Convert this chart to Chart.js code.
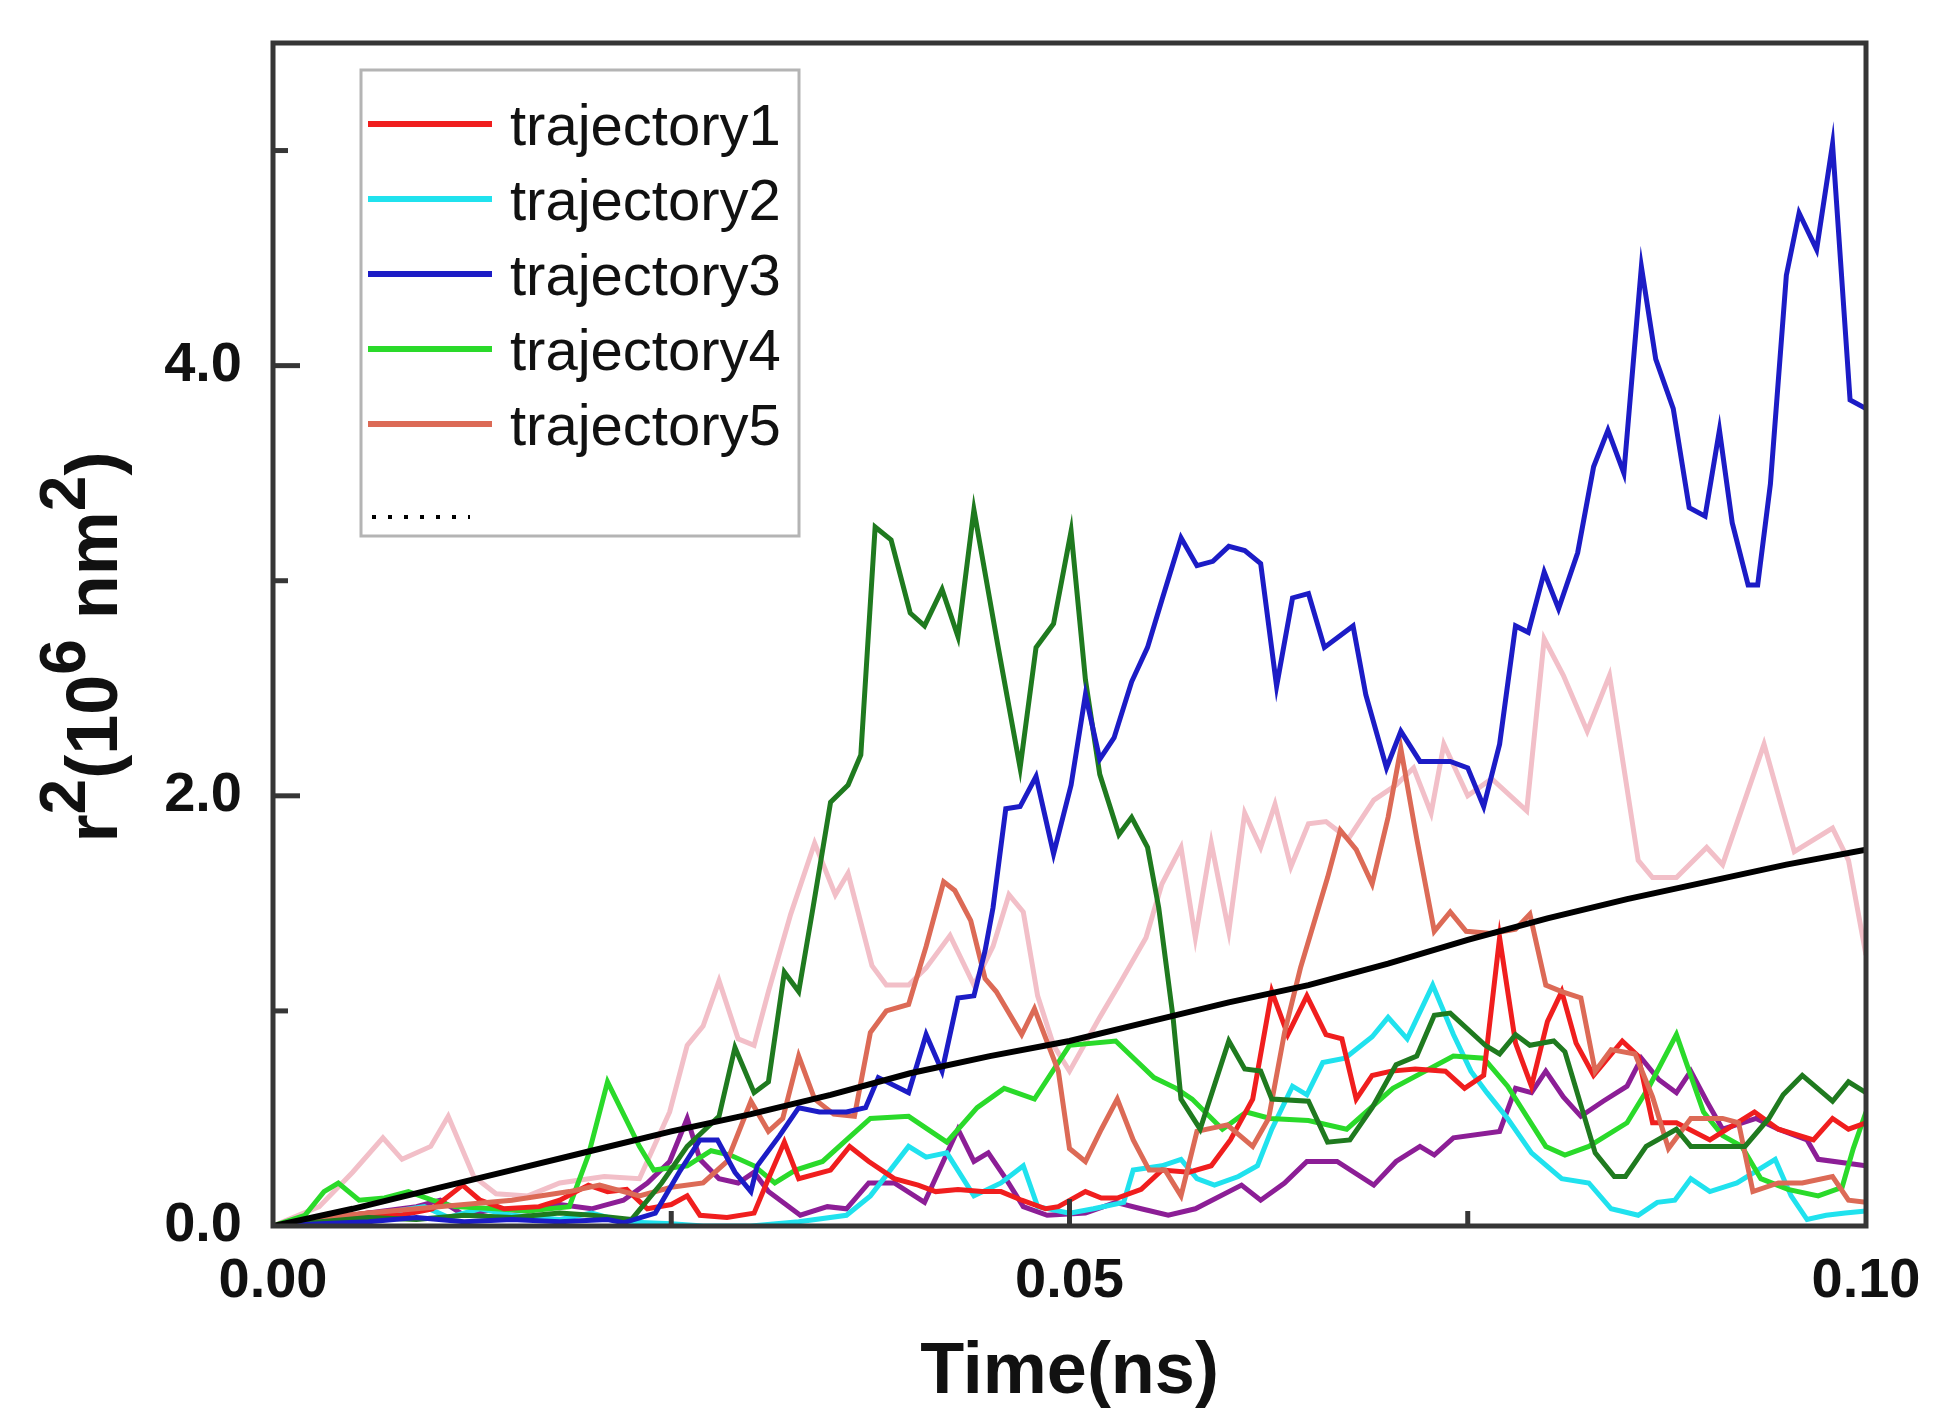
<!DOCTYPE html>
<html lang="en">
<head>
    <meta charset="UTF-8">
    <title>r2 vs time</title>
    <script src="https://cdn.jsdelivr.net/npm/chart.js"></script>
    <style>
        html, body { margin: 0; padding: 0; background: #fff; }
        #wrap { width: 1944px; height: 1428px; position: relative; }
    </style>
</head>
<body>
    <div id="wrap"><canvas id="myChart"></canvas></div>
    <script>
        // time (ns) and r^2 (10^6 nm^2), one pair of arrays per curve
        const t1 = [0, 0.002, 0.004, 0.006, 0.008, 0.010, 0.0119, 0.013, 0.0145, 0.0167, 0.018, 0.0198, 0.021, 0.0222, 0.0235, 0.025, 0.026, 0.0268, 0.0285, 0.0302, 0.0311, 0.0321, 0.033, 0.035, 0.0362, 0.0374, 0.039, 0.0405, 0.0416, 0.043, 0.0445, 0.0457, 0.047, 0.0485, 0.0493, 0.051, 0.052, 0.053, 0.0545, 0.0558, 0.0575, 0.0589, 0.0601, 0.0615, 0.0627, 0.0637, 0.0649, 0.0661, 0.0671, 0.068, 0.069, 0.0702, 0.0717, 0.0736, 0.0748, 0.076, 0.077, 0.078, 0.079, 0.080, 0.0809, 0.0818, 0.0829, 0.0847, 0.0857, 0.0866, 0.0881, 0.0902, 0.093, 0.0945, 0.0967, 0.0979, 0.0989, 0.1];
        const r1 = [0, 0.02, 0.04, 0.06, 0.05, 0.08, 0.19, 0.12, 0.08, 0.09, 0.12, 0.19, 0.16, 0.17, 0.08, 0.10, 0.14, 0.05, 0.04, 0.06, 0.22, 0.39, 0.22, 0.26, 0.37, 0.30, 0.22, 0.19, 0.16, 0.17, 0.16, 0.16, 0.12, 0.08, 0.09, 0.16, 0.13, 0.13, 0.17, 0.26, 0.25, 0.28, 0.40, 0.59, 1.09, 0.89, 1.07, 0.89, 0.87, 0.59, 0.70, 0.72, 0.73, 0.72, 0.64, 0.70, 1.34, 0.85, 0.65, 0.95, 1.09, 0.85, 0.70, 0.86, 0.79, 0.48, 0.48, 0.40, 0.53, 0.45, 0.40, 0.50, 0.45, 0.48];

        const t2 = [0, 0.003, 0.006, 0.0095, 0.011, 0.013, 0.015, 0.018, 0.020, 0.022, 0.025, 0.027, 0.030, 0.033, 0.036, 0.0375, 0.0399, 0.041, 0.0423, 0.044, 0.0457, 0.0471, 0.048, 0.050, 0.0515, 0.0534, 0.054, 0.0558, 0.057, 0.058, 0.0591, 0.0606, 0.0618, 0.0627, 0.064, 0.0649, 0.0659, 0.0673, 0.069, 0.070, 0.0712, 0.0728, 0.0741, 0.0752, 0.0762, 0.0775, 0.079, 0.0809, 0.0826, 0.084, 0.0857, 0.0869, 0.088, 0.089, 0.0902, 0.0919, 0.0943, 0.0953, 0.0963, 0.0975, 0.0987, 0.1];
        const r2 = [0, 0.02, 0.05, 0.09, 0.04, 0.08, 0.05, 0.03, 0.06, 0.02, 0.01, 0.0, 0.0, 0.02, 0.05, 0.14, 0.37, 0.32, 0.34, 0.14, 0.20, 0.28, 0.09, 0.06, 0.08, 0.11, 0.26, 0.28, 0.31, 0.22, 0.19, 0.23, 0.28, 0.45, 0.65, 0.61, 0.76, 0.78, 0.88, 0.97, 0.87, 1.12, 0.89, 0.72, 0.62, 0.50, 0.34, 0.22, 0.20, 0.08, 0.05, 0.11, 0.12, 0.22, 0.16, 0.20, 0.31, 0.14, 0.03, 0.05, 0.06, 0.07];

        const t3 = [0, 0.003, 0.006, 0.009, 0.012, 0.015, 0.018, 0.021, 0.022, 0.024, 0.0255, 0.0268, 0.0279, 0.029, 0.030, 0.0304, 0.0318, 0.033, 0.0343, 0.036, 0.0372, 0.038, 0.0399, 0.041, 0.042, 0.043, 0.044, 0.0447, 0.0452, 0.046, 0.0469, 0.0479, 0.049, 0.0501, 0.051, 0.0519, 0.0528, 0.0539, 0.0549, 0.0558, 0.057, 0.058, 0.059, 0.060, 0.061, 0.062, 0.063, 0.064, 0.065, 0.066, 0.0678, 0.0686, 0.0699, 0.0708, 0.072, 0.0739, 0.075, 0.076, 0.077, 0.078, 0.0788, 0.0798, 0.0807, 0.0819, 0.0829, 0.0838, 0.0848, 0.0859, 0.0868, 0.0879, 0.0889, 0.0899, 0.0908, 0.0916, 0.0926, 0.0932, 0.094, 0.095, 0.0958, 0.0969, 0.0979, 0.099, 0.1];
        const r3 = [0, 0.01, 0.02, 0.04, 0.02, 0.03, 0.02, 0.03, 0.015, 0.06, 0.25, 0.40, 0.40, 0.25, 0.16, 0.28, 0.42, 0.55, 0.53, 0.53, 0.55, 0.69, 0.62, 0.89, 0.72, 1.06, 1.07, 1.28, 1.48, 1.94, 1.95, 2.09, 1.73, 2.05, 2.47, 2.17, 2.27, 2.53, 2.69, 2.91, 3.20, 3.07, 3.09, 3.16, 3.14, 3.08, 2.51, 2.92, 2.94, 2.69, 2.79, 2.47, 2.13, 2.30, 2.16, 2.16, 2.13, 1.95, 2.24, 2.79, 2.76, 3.04, 2.87, 3.13, 3.53, 3.70, 3.50, 4.46, 4.03, 3.80, 3.34, 3.30, 3.70, 3.27, 2.98, 2.98, 3.45, 4.42, 4.71, 4.54, 5.03, 3.84, 3.80];

        const t4 = [0, 0.002, 0.0032, 0.0041, 0.0054, 0.007, 0.0085, 0.010, 0.0114, 0.014, 0.016, 0.0186, 0.0198, 0.021, 0.023, 0.0239, 0.026, 0.0275, 0.0287, 0.0302, 0.0315, 0.0328, 0.0345, 0.036, 0.0375, 0.0399, 0.0423, 0.0442, 0.0459, 0.0478, 0.050, 0.0529, 0.0553, 0.0567, 0.0577, 0.0596, 0.0611, 0.0626, 0.065, 0.0674, 0.0703, 0.0741, 0.076, 0.0775, 0.0799, 0.0811, 0.0826, 0.085, 0.0864, 0.0881, 0.0898, 0.091, 0.0922, 0.0934, 0.0951, 0.097, 0.0985, 0.0992, 0.1];
        const r4 = [0, 0.05, 0.16, 0.20, 0.12, 0.13, 0.16, 0.12, 0.09, 0.08, 0.07, 0.09, 0.33, 0.67, 0.37, 0.26, 0.28, 0.35, 0.33, 0.28, 0.20, 0.26, 0.30, 0.40, 0.50, 0.51, 0.39, 0.55, 0.64, 0.59, 0.84, 0.86, 0.69, 0.64, 0.59, 0.45, 0.53, 0.50, 0.49, 0.45, 0.64, 0.79, 0.78, 0.65, 0.37, 0.33, 0.37, 0.48, 0.65, 0.89, 0.53, 0.42, 0.37, 0.22, 0.17, 0.14, 0.18, 0.36, 0.53];

        const t5 = [0, 0.003, 0.006, 0.009, 0.012, 0.015, 0.0186, 0.0205, 0.023, 0.025, 0.027, 0.0285, 0.030, 0.0311, 0.032, 0.033, 0.034, 0.0352, 0.0365, 0.0375, 0.0385, 0.0399, 0.041, 0.0421, 0.0428, 0.0438, 0.0447, 0.0454, 0.047, 0.0478, 0.0493, 0.050, 0.051, 0.052, 0.053, 0.054, 0.055, 0.056, 0.057, 0.058, 0.0599, 0.0615, 0.0625, 0.0635, 0.0645, 0.0662, 0.067, 0.068, 0.069, 0.070, 0.0708, 0.0718, 0.0729, 0.0739, 0.0749, 0.0765, 0.078, 0.0789, 0.0799, 0.0809, 0.0821, 0.083, 0.084, 0.0855, 0.0866, 0.0876, 0.089, 0.091, 0.092, 0.0929, 0.0945, 0.096, 0.0979, 0.0989, 0.1];
        const r5 = [0, 0.04, 0.06, 0.08, 0.10, 0.12, 0.16, 0.19, 0.14, 0.18, 0.20, 0.30, 0.58, 0.44, 0.50, 0.79, 0.59, 0.52, 0.51, 0.90, 1.00, 1.03, 1.30, 1.60, 1.56, 1.42, 1.15, 1.09, 0.89, 1.01, 0.72, 0.36, 0.30, 0.45, 0.59, 0.40, 0.26, 0.26, 0.14, 0.44, 0.47, 0.37, 0.50, 0.90, 1.20, 1.62, 1.84, 1.75, 1.59, 1.90, 2.22, 1.80, 1.37, 1.46, 1.37, 1.36, 1.38, 1.45, 1.12, 1.09, 1.06, 0.72, 0.82, 0.80, 0.60, 0.36, 0.50, 0.50, 0.48, 0.16, 0.20, 0.20, 0.23, 0.12, 0.11];

        const t6 = [0, 0.0029, 0.005, 0.0069, 0.0081, 0.0099, 0.011, 0.0126, 0.014, 0.016, 0.018, 0.0208, 0.023, 0.0249, 0.026, 0.027, 0.028, 0.0292, 0.0302, 0.0311, 0.0325, 0.034, 0.0353, 0.0361, 0.0376, 0.0385, 0.0399, 0.041, 0.0425, 0.044, 0.0452, 0.0462, 0.0471, 0.048, 0.049, 0.050, 0.0519, 0.0531, 0.0548, 0.0558, 0.057, 0.0579, 0.0589, 0.060, 0.061, 0.062, 0.0629, 0.0639, 0.065, 0.0661, 0.0675, 0.0691, 0.0705, 0.0716, 0.0727, 0.0735, 0.075, 0.0765, 0.0787, 0.0798, 0.081, 0.0825, 0.0839, 0.0848, 0.0857, 0.0866, 0.0881, 0.090, 0.091, 0.0936, 0.0947, 0.0955, 0.0979, 0.0989, 0.1];
        const r6 = [0, 0.09, 0.25, 0.41, 0.31, 0.37, 0.51, 0.23, 0.15, 0.14, 0.20, 0.23, 0.22, 0.53, 0.84, 0.93, 1.14, 0.87, 0.84, 1.09, 1.45, 1.78, 1.54, 1.64, 1.21, 1.12, 1.12, 1.20, 1.35, 1.12, 1.30, 1.54, 1.46, 1.07, 0.84, 0.72, 0.97, 1.12, 1.34, 1.59, 1.76, 1.34, 1.78, 1.37, 1.92, 1.76, 1.96, 1.67, 1.87, 1.88, 1.80, 1.98, 2.05, 2.13, 1.92, 2.24, 2.00, 2.08, 1.93, 2.73, 2.56, 2.30, 2.56, 2.13, 1.70, 1.62, 1.62, 1.76, 1.68, 2.24, 1.95, 1.74, 1.85, 1.70, 1.26];

        const t7 = [0, 0.003, 0.006, 0.009, 0.0105, 0.012, 0.014, 0.016, 0.018, 0.020, 0.022, 0.0235, 0.0249, 0.026, 0.0268, 0.028, 0.0292, 0.0302, 0.0311, 0.0331, 0.0348, 0.036, 0.0374, 0.039, 0.0409, 0.043, 0.044, 0.0449, 0.046, 0.0471, 0.0486, 0.051, 0.0529, 0.0545, 0.0562, 0.0579, 0.0608, 0.062, 0.0635, 0.0649, 0.0668, 0.0691, 0.0705, 0.072, 0.0729, 0.0741, 0.077, 0.078, 0.079, 0.0799, 0.081, 0.0821, 0.0835, 0.085, 0.0859, 0.087, 0.0881, 0.089, 0.090, 0.091, 0.0931, 0.0945, 0.0963, 0.097, 0.1];
        const r7 = [0, 0.03, 0.06, 0.09, 0.12, 0.05, 0.08, 0.07, 0.10, 0.08, 0.12, 0.20, 0.30, 0.50, 0.31, 0.22, 0.20, 0.25, 0.16, 0.05, 0.09, 0.08, 0.20, 0.20, 0.11, 0.45, 0.30, 0.34, 0.22, 0.09, 0.05, 0.06, 0.11, 0.08, 0.05, 0.08, 0.19, 0.12, 0.20, 0.30, 0.30, 0.19, 0.30, 0.37, 0.33, 0.41, 0.44, 0.64, 0.62, 0.72, 0.60, 0.51, 0.58, 0.65, 0.78, 0.68, 0.62, 0.72, 0.58, 0.45, 0.50, 0.45, 0.40, 0.31, 0.28];

        const t8 = [0, 0.003, 0.006, 0.009, 0.012, 0.015, 0.018, 0.020, 0.0225, 0.0244, 0.026, 0.028, 0.029, 0.0302, 0.0311, 0.0321, 0.033, 0.0339, 0.035, 0.0361, 0.0369, 0.0378, 0.0388, 0.040, 0.0409, 0.042, 0.043, 0.044, 0.0455, 0.0469, 0.0479, 0.049, 0.0501, 0.051, 0.0519, 0.0531, 0.0539, 0.0549, 0.0556, 0.0565, 0.057, 0.0582, 0.060, 0.061, 0.062, 0.0627, 0.065, 0.0662, 0.0676, 0.069, 0.0705, 0.0718, 0.0729, 0.0739, 0.0761, 0.077, 0.078, 0.0789, 0.0804, 0.0811, 0.083, 0.0842, 0.0849, 0.0862, 0.0881, 0.089, 0.0924, 0.0939, 0.0948, 0.096, 0.0979, 0.0989, 0.1];
        const r8 = [0, 0.02, 0.04, 0.03, 0.05, 0.04, 0.06, 0.05, 0.03, 0.20, 0.37, 0.51, 0.83, 0.62, 0.67, 1.18, 1.09, 1.48, 1.97, 2.05, 2.19, 3.25, 3.19, 2.85, 2.79, 2.96, 2.74, 3.33, 2.70, 2.13, 2.69, 2.80, 3.23, 2.54, 2.10, 1.82, 1.90, 1.76, 1.48, 0.97, 0.59, 0.45, 0.86, 0.73, 0.72, 0.59, 0.58, 0.39, 0.40, 0.55, 0.75, 0.79, 0.98, 0.99, 0.84, 0.80, 0.89, 0.84, 0.86, 0.81, 0.34, 0.23, 0.23, 0.37, 0.45, 0.37, 0.37, 0.50, 0.61, 0.70, 0.58, 0.67, 0.62];

        // smooth black curve
        const t9 = [0, 0.005, 0.010, 0.015, 0.020, 0.025, 0.030, 0.035, 0.040, 0.045, 0.050, 0.055, 0.060, 0.065, 0.070, 0.075, 0.080, 0.085, 0.090, 0.095, 0.1];
        const r9 = [0, 0.08, 0.17, 0.26, 0.35, 0.44, 0.52, 0.61, 0.71, 0.79, 0.86, 0.95, 1.04, 1.12, 1.22, 1.33, 1.43, 1.52, 1.60, 1.68, 1.75];

        const legendLabels = ['trajectory1', 'trajectory2', 'trajectory3', 'trajectory4', 'trajectory5'];
        const xTickLabels = ['0.00', '0.05', '0.10'];
        const yTickLabels = ['0.0', '2.0', '4.0'];

        const FONT = '"Liberation Sans", Arial, Helvetica, sans-serif';

        function pts(t, r) {
            return t.map((x, i) => ({ x: x, y: r[i] }));
        }

        function line(label, t, r, color, order, width) {
            return {
                label: label,
                data: pts(t, r),
                borderColor: color,
                backgroundColor: color,
                borderWidth: width || 5,
                pointRadius: 0,
                tension: 0,
                fill: false,
                order: order
            };
        }

        // lower order = drawn on top
        const datasets = [
            line(legendLabels[0], t1, r1, '#f01e1e', 4),
            line(legendLabels[1], t2, r2, '#20e2ee', 6),
            line(legendLabels[2], t3, r3, '#1c1cc6', 1),
            line(legendLabels[3], t4, r4, '#2ada2a', 5),
            line(legendLabels[4], t5, r5, '#dc6a56', 3),
            line('', t6, r6, '#f2bfc8', 9),
            line('', t7, r7, '#8c1e96', 7),
            line('', t8, r8, '#1f7a1f', 2),
            line('', t9, r9, '#000000', 0, 6)
        ];

        // frame, inward tick marks, legend box and the y title with superscripts
        const decorations = {
            id: 'decorations',
            afterDatasetsDraw(chart) {
                const ctx = chart.ctx;
                const a = chart.chartArea;
                const xs = chart.scales.x;
                const ys = chart.scales.y;
                ctx.save();

                ctx.strokeStyle = '#363636';
                ctx.lineWidth = 5;
                ctx.strokeRect(a.left, a.top, a.right - a.left, a.bottom - a.top);

                ctx.lineWidth = 5;
                [1, 2, 3, 4, 5].forEach(v => {
                    const y = ys.getPixelForValue(v);
                    const len = v % 2 === 0 ? 27 : 15;
                    ctx.beginPath();
                    ctx.moveTo(a.left, y);
                    ctx.lineTo(a.left + len, y);
                    ctx.stroke();
                });
                [0.025, 0.05, 0.075].forEach((v, i) => {
                    const x = xs.getPixelForValue(v);
                    const len = i === 1 ? 27 : 15;
                    ctx.beginPath();
                    ctx.moveTo(x, a.bottom);
                    ctx.lineTo(x, a.bottom - len);
                    ctx.stroke();
                });

                // legend
                const bx = 361, by = 70, bw = 438, bh = 466;
                ctx.fillStyle = '#ffffff';
                ctx.fillRect(bx, by, bw, bh);
                ctx.strokeStyle = '#b4b4b4';
                ctx.lineWidth = 3;
                ctx.strokeRect(bx, by, bw, bh);
                ctx.font = '58px ' + FONT;
                ctx.textBaseline = 'alphabetic';
                ctx.textAlign = 'left';
                for (let i = 0; i < legendLabels.length; i++) {
                    const y = 124 + i * 75;
                    ctx.strokeStyle = datasets[i].borderColor;
                    ctx.lineWidth = 6;
                    ctx.beginPath();
                    ctx.moveTo(368, y);
                    ctx.lineTo(492, y);
                    ctx.stroke();
                    ctx.fillStyle = '#111';
                    ctx.fillText(legendLabels[i], 510, y + 21);
                }
                ctx.strokeStyle = '#000';
                ctx.lineWidth = 4;
                ctx.setLineDash([4, 12]);
                ctx.beginPath();
                ctx.moveTo(372, 517);
                ctx.lineTo(470, 517);
                ctx.stroke();
                ctx.setLineDash([]);

                // y title: r^2(10^6 nm^2)
                const parts = [['r', 0], ['2', 1], ['(10', 0], ['6', 1], [' nm', 0], ['2', 1], [')', 0]];
                const big = 'bold 72px ' + FONT;
                const sup = 'bold 64px ' + FONT;
                let total = 0;
                parts.forEach(p => { ctx.font = p[1] ? sup : big; total += ctx.measureText(p[0]).width; });
                ctx.translate(117, 647);
                ctx.rotate(-Math.PI / 2);
                ctx.fillStyle = '#111';
                let cx = -total / 2;
                parts.forEach(p => {
                    ctx.font = p[1] ? sup : big;
                    ctx.fillText(p[0], cx, p[1] ? -32 : 0);
                    cx += ctx.measureText(p[0]).width;
                });
                ctx.restore();
            }
        };

        const ctx = document.getElementById('myChart').getContext('2d');
        const chartInstance = new Chart(ctx, {
            type: 'line',
            data: { datasets: datasets },
            options: {
                responsive: true,
                maintainAspectRatio: false,
                devicePixelRatio: 1,
                animation: false,
                layout: { padding: { top: 43, right: 78, left: 0, bottom: 0 } },
                plugins: {
                    legend: { display: false },
                    tooltip: { enabled: false }
                },
                scales: {
                    x: {
                        type: 'linear',
                        min: 0,
                        max: 0.1,
                        grid: { display: false, drawTicks: false },
                        border: { display: false },
                        ticks: {
                            stepSize: 0.05,
                            padding: 22,
                            color: '#111',
                            font: { family: FONT, size: 56, weight: 'bold' },
                            maxRotation: 0,
                            callback: (v) => xTickLabels[Math.round(v / 0.05)] || ''
                        },
                        title: {
                            display: true,
                            text: 'Time(ns)',
                            color: '#111',
                            font: { family: FONT, size: 72, weight: 'bold' },
                            padding: { top: 0, bottom: 12 }
                        },
                        afterFit: (scale) => {
                            scale.height = 202;
                            scale.paddingLeft = 0;
                            scale.paddingRight = 0;
                        }
                    },
                    y: {
                        min: 0,
                        max: 5.5,
                        grid: { display: false, drawTicks: false },
                        border: { display: false },
                        ticks: {
                            stepSize: 2,
                            padding: 31,
                            color: '#111',
                            font: { family: FONT, size: 56, weight: 'bold' },
                            callback: (v) => (Math.abs(v % 2) < 1e-9 ? yTickLabels[v / 2] || '' : '')
                        },
                        afterFit: (scale) => {
                            scale.width = 273;
                            scale.paddingTop = 0;
                            scale.paddingBottom = 0;
                        }
                    }
                }
            },
            plugins: [decorations]
        });
    </script>
</body>
</html>
